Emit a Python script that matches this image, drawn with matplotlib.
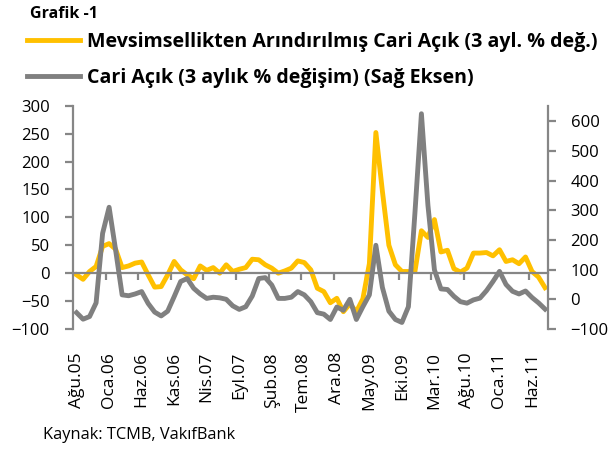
import numpy as np
import matplotlib.pyplot as plt
import matplotlib.transforms as mtransforms

plt.rcParams["font.family"] = ["Open Sans", "DejaVu Sans"]

# Mevsimsellikten arındırılmış cari açık (sol eksen), Ağu.05 - Ağu.11
sa_deficit = [
    -3, -11, 3, 12, 48, 53, 43, 10, 13, 18,
    20, -3, -25, -24, -3, 21, 6, -3, -10, 13,
    5, 10, 0, 15, 3, 7, 10, 25, 24, 15,
    9, 0, 4, 9, 22, 19, 6, -27, -33, -53,
    -45, -69, -55, -69, -46, 17, 252, 147, 50, 15,
    3, 3, 3, 76, 64, 96, 38, 41, 8, 2,
    9, 36, 36, 37, 31, 42, 21, 24, 17, 29,
    3, -7, -26,
]

# Cari açık 3 aylık % değişim (sağ eksen)
deficit = [
    -45, -67, -58, -12, 222, 310, 166, 15, 12, 18,
    26, -14, -43, -56, -40, 9, 60, 70, 37, 18,
    3, 7, 5, 0, -22, -34, -25, 11, 70, 73,
    48, 3, 3, 7, 26, 15, -8, -45, -50, -68,
    -26, -37, 0, -68, -25, 15, 182, 40, -40, -68,
    -78, -25, 290, 625, 317, 99, 35, 33, 10, -8,
    -13, -2, 4, 29, 60, 94, 50, 27, 18, 28,
    6, -12, -33,
]

tick_labels = ["Ağu.05", "Oca.06", "Haz.06", "Kas.06", "Nis.07", "Eyl.07",
               "Şub.08", "Tem.08", "Ara.08", "May.09", "Eki.09", "Mar.10",
               "Ağu.10", "Oca.11", "Haz.11"]

YELLOW = "#FFC000"
GREY = "#808080"
AXIS = "#868686"

n = len(sa_deficit)
x = np.arange(n)

fig = plt.figure(figsize=(6.08, 4.5), dpi=100)
ax = fig.add_axes([0.1206, 0.2689, 0.7812, 0.4962])
ax2 = ax.twinx()

l1, = ax.plot(x, sa_deficit, color=YELLOW, linewidth=3.5, solid_joinstyle="round")
l2, = ax2.plot(x, deficit, color=GREY, linewidth=3.5, solid_joinstyle="round")

ax.set_xlim(-0.5, n - 0.5)
ax.set_ylim(-100, 300)
ax.set_yticks(np.arange(-100, 301, 50))
ax2.set_ylim(-100, 652)
ax2.set_yticks(np.arange(-100, 601, 100))

for s in ["top", "right"]:
    ax.spines[s].set_visible(False)
for s in ["top", "left", "bottom"]:
    ax2.spines[s].set_visible(False)
ax.spines["left"].set_color(AXIS)
ax.spines["left"].set_linewidth(1.6)
ax2.spines["right"].set_color(AXIS)
ax2.spines["right"].set_linewidth(1.6)

# kategori ekseni sıfırdan geçiyor
ax.spines["bottom"].set_position(("data", 0))
ax.spines["bottom"].set_color(AXIS)
ax.spines["bottom"].set_linewidth(1.6)
ax.set_xticks(np.arange(4.5, n - 1, 5))
ax.tick_params(axis="x", direction="out", length=5, width=1.6, color=AXIS,
               labelbottom=False)

ax.tick_params(axis="y", direction="out", length=6, width=1.6, color=AXIS,
               pad=11, labelsize=12)
ax2.tick_params(axis="y", direction="out", length=6, width=1.6, color=AXIS,
                pad=10, labelsize=12)

# etiketler grafiğin altında
trans = mtransforms.blended_transform_factory(ax.transData, fig.transFigure)
for pos, lab in zip(np.arange(0, n, 5), tick_labels):
    ax.text(pos, 1 - 352 / 450, lab, transform=trans, rotation=90,
            ha="center", va="top", fontsize=12.5)

fig.text(30 / 608, 1 - 13.5 / 450, "Grafik -1", fontsize=11.5,
         fontweight="bold", va="center", ha="left")

fig.legend([l1, l2],
           ["Mevsimsellikten Arındırılmış Cari Açık (3 ayl. % değ.)",
            "Cari Açık (3 aylık % değişim) (Sağ Eksen)"],
           loc="upper left", bbox_to_anchor=(27 / 608, 1 - 32 / 450),
           frameon=False, prop={"weight": "bold", "size": 14.1},
           handlelength=2.7, handletextpad=0.35, labelspacing=0.82,
           borderpad=0, borderaxespad=0)

fig.text(43 / 608, 1 - 435 / 450, "Kaynak: TCMB, VakıfBank", fontsize=11.8,
         va="center", ha="left")

fig.savefig("out.png", dpi=100)
